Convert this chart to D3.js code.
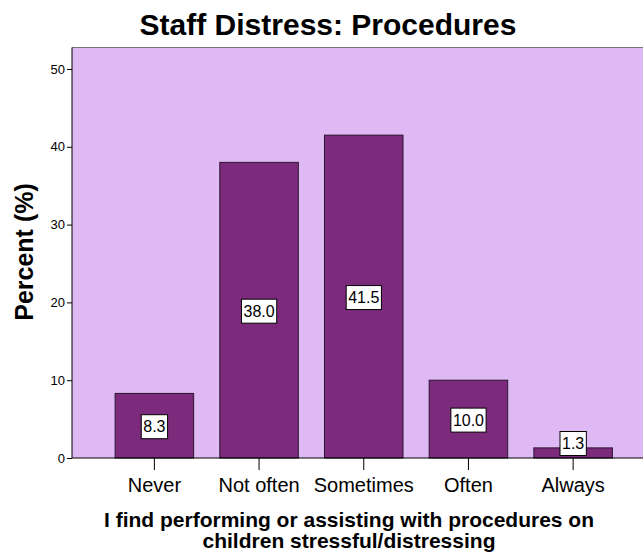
<!DOCTYPE html>
<html><head><meta charset="utf-8">
<script src="https://cdn.jsdelivr.net/npm/d3@7"></script>
<style>body{margin:0;background:#fff}svg{display:block}</style>
</head><body>
<svg id="c" width="643" height="554"></svg>
<script>
const categories = ["Never", "Not often", "Sometimes", "Often", "Always"];
const percents = [8.3, 38.0, 41.5, 10.0, 1.3];
const yTicks = [0, 10, 20, 30, 40, 50];
const title = "Staff Distress: Procedures";
const yTitle = "Percent (%)";
const xTitleLines = ["I find performing or assisting with procedures on", "children stressful/distressing"];

const svg = d3.select("#c");
const font = "Liberation Sans, Arial, sans-serif";
const pLeft = 72, pRight = 643, pTop = 47.5, pBottom = 458;

const x = d3.scaleBand().domain(categories).range([101.5, 626]).paddingInner(0.25).paddingOuter(0.13);
const y = d3.scaleLinear().domain([0, 50]).range([pBottom, 69]);

svg.append("rect").attr("x", pLeft).attr("y", pTop).attr("width", pRight - pLeft + 2).attr("height", pBottom - pTop)
  .attr("fill", "#dfb9f3");
svg.append("line").attr("x1", pLeft).attr("x2", pRight).attr("y1", pTop).attr("y2", pTop)
  .attr("stroke", "#777").attr("stroke-width", 1.2);

svg.selectAll("rect.bar").data(percents).enter().append("rect").attr("class", "bar")
  .attr("x", (d, i) => x(categories[i]))
  .attr("y", d => y(d))
  .attr("width", x.bandwidth())
  .attr("height", d => y(0) - y(d))
  .attr("fill", "#7c2a7b").attr("stroke", "#2b1530").attr("stroke-width", 1);

// y axis
const ya = svg.append("g").attr("transform", `translate(${pLeft},0)`)
  .call(d3.axisLeft(y).tickValues(yTicks).tickSize(5).tickPadding(2));
ya.select(".domain").attr("d", `M0,${pTop}V${pBottom}`).attr("stroke", "#000");
ya.selectAll("text").attr("font-family", font).attr("font-size", 13).attr("fill", "#000");
ya.selectAll("line").attr("stroke", "#000");

// x axis
const xa = svg.append("g").attr("transform", `translate(0,${pBottom})`)
  .call(d3.axisBottom(x).tickSize(12).tickPadding(8));
xa.select(".domain").attr("d", `M${pLeft},0H${pRight}`).attr("stroke", "#000");
xa.selectAll("text").attr("font-family", font).attr("font-size", 20).attr("fill", "#000");
xa.selectAll("line").attr("stroke", "#000");

// value labels
const lab = svg.selectAll("g.lab").data(percents).enter().append("g").attr("class", "lab")
  .attr("transform", (d, i) => {
    const cy = Math.min((y(d) + y(0)) / 2, y(0) - 15.5);
    return `translate(${x(categories[i]) + x.bandwidth() / 2},${cy + 1})`;
  });
lab.append("text").text(d => d.toFixed(1))
  .attr("font-family", font).attr("font-size", 16).attr("text-anchor", "middle").attr("dy", "0.36em").attr("fill", "#000");
lab.each(function () {
  const g = d3.select(this);
  const bb = g.select("text").node().getBBox();
  g.insert("rect", "text").attr("x", bb.x - 2).attr("y", -12).attr("width", bb.width + 4).attr("height", 24)
    .attr("fill", "#fff").attr("stroke", "#000").attr("stroke-width", 1);
});

svg.append("text").text(title).attr("x", 328).attr("y", 35).attr("text-anchor", "middle")
  .attr("font-family", font).attr("font-weight", "bold").attr("font-size", 30);
svg.append("text").text(yTitle).attr("transform", "translate(33,252) rotate(-90)").attr("text-anchor", "middle")
  .attr("font-family", font).attr("font-weight", "bold").attr("font-size", 25);
svg.selectAll("text.xt").data(xTitleLines).enter().append("text").attr("class", "xt")
  .text(d => d).attr("x", 349).attr("y", (d, i) => 527 + i * 21).attr("text-anchor", "middle")
  .attr("font-family", font).attr("font-weight", "bold").attr("font-size", 21);
</script>
</body></html>
